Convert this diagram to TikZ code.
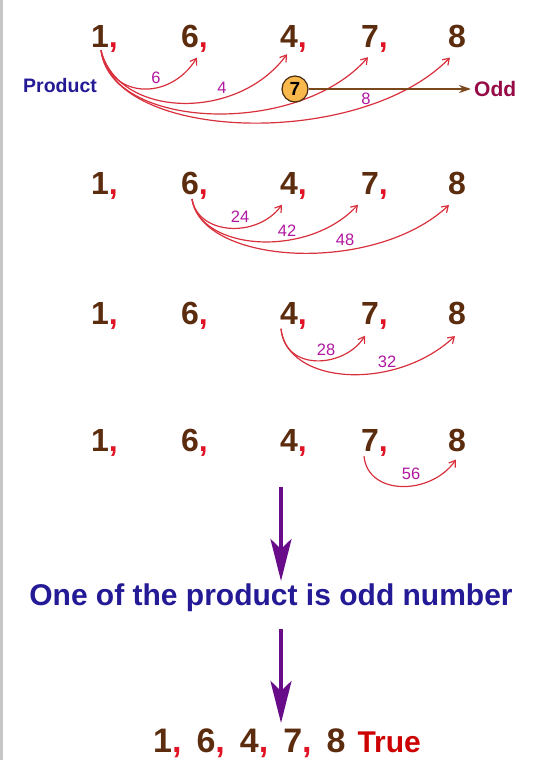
\documentclass[tikz,border=0pt]{standalone}
\usepackage{fontspec}
\setmainfont{Liberation Sans}
\usetikzlibrary{arrows.meta,calc}
\definecolor{numbrown}{RGB}{92,44,14}
\definecolor{commared}{RGB}{224,20,36}
\definecolor{arcred}{RGB}{216,48,60}
\definecolor{prodmag}{RGB}{176,24,160}
\definecolor{textblue}{RGB}{36,26,150}
\definecolor{oddmaroon}{RGB}{150,10,70}
\definecolor{arrowbrown}{RGB}{122,72,26}
\definecolor{circorange}{RGB}{248,184,76}
\definecolor{downpurple}{RGB}{104,12,138}
\newcommand{\redcomma}{\rlap{\smash{\textcolor{commared}{,}}}}
\tikzset{
  digit/.style={inner sep=0pt,text=numbrown,font=\fontsize{32}{32}\selectfont\bfseries},
  prodarc/.style={draw=arcred,line width=1.2pt,-{Straight Barb[length=6pt,width=8pt]}},
  prodlab/.style={inner sep=0pt,text=prodmag,font=\fontsize{16.5}{16.5}\selectfont},
  downarrow/.style={draw=downpurple,line width=4pt,-{Stealth[length=42pt,width=21pt,inset=10pt]}},
}

\begin{document}
\begin{tikzpicture}[x=1pt,y=-1pt]
\useasboundingbox (0,0) rectangle (542,760);
\fill[gray!45] (0,0) rectangle (3,760);
% the four rows of numbers
\foreach \r/\y in {1/36,2/183.5,3/313.5,4/440}{
  \foreach \n/\x/\d in {a/100/1,b/190/6,c/289/4,d/370/7}
    \node[digit] (n\r\n) at (\x,\y) {\d\redcomma};
  \node[digit] (n\r e) at (457,\y) {8};
}
% row 1: products with 1
\node[inner sep=0pt,text=textblue,font=\fontsize{19.5}{19.5}\selectfont\bfseries] (product) at (60,86) {Product};
\draw[prodarc] ([xshift=1pt,yshift=-3pt]n1a.south) .. controls +(8,48) and +(-28,45) .. ([xshift=7pt,yshift=-10pt]n1b.south);
\draw[prodarc] ([xshift=1pt,yshift=-3pt]n1a.south) .. controls +(17,68) and +(-50,68) .. ([xshift=-2pt,yshift=-7pt]n1c.south);
\draw[prodarc] ([xshift=1pt,yshift=-3pt]n1a.south) .. controls +(10,80) and +(-70,80) .. ([xshift=-2pt,yshift=-10pt]n1d.south);
\draw[prodarc] ([xshift=1pt,yshift=-3pt]n1a.south) .. controls +(12,92) and +(-90,92) .. ([xshift=-7pt,yshift=-10pt]n1e.south);
\node[prodlab] (p16) at (156,78) {6};
\node[prodlab] (p14) at (222,88) {4};
\node[prodlab] (p18) at (366,99) {8};
\node[circle,draw=arrowbrown!60!black,line width=1.2pt,fill=circorange,minimum size=26pt,inner sep=0pt,font=\fontsize{19}{19}\selectfont\bfseries] (seven) at (295,89) {7};
\node[anchor=west,inner sep=3pt,text=oddmaroon,font=\fontsize{21}{21}\selectfont\bfseries] (odd) at (471,89) {Odd};
\draw[arrowbrown,line width=1.5pt,-{Stealth[length=12pt,width=8pt]}] (seven) -- (odd);
% row 2: products with 6
\draw[prodarc] ([xshift=2pt,yshift=-4pt]n2b.south) .. controls +(6,36) and +(-25,34) .. ([xshift=-7pt,yshift=-10pt]n2c.south);
\draw[prodarc] ([xshift=2pt,yshift=-4pt]n2b.south) .. controls +(8,52) and +(-50,54) .. ([xshift=-12pt,yshift=-10pt]n2d.south);
\draw[prodarc] ([xshift=2pt,yshift=-4pt]n2b.south) .. controls +(10,66) and +(-75,70) .. ([xshift=-8pt,yshift=-10pt]n2e.south);
\node[prodlab] (p24) at (240,217) {24};
\node[prodlab] (p42) at (287,231) {42};
\node[prodlab] (p48) at (345,240) {48};
% row 3: products with 4
\draw[prodarc] ([xshift=-8pt,yshift=-4pt]n3c.south) .. controls +(4,44) and +(-20,32) .. ([xshift=-5pt,yshift=-11pt]n3d.south);
\draw[prodarc] ([xshift=-8pt,yshift=-4pt]n3c.south) .. controls +(6,56) and +(-60,56) .. ([xshift=-2pt,yshift=-11pt]n3e.south);
\node[prodlab] (p28) at (326,350) {28};
\node[prodlab] (p32) at (387,362) {32};
% row 4: product with 7
\draw[prodarc] ([xshift=-6pt,yshift=-5pt]n4d.south) .. controls +(4,40) and +(-25,36) .. ([xshift=-1pt,yshift=-8pt]n4e.south);
\node[prodlab] (p56) at (411,474) {56};
% conclusion
\coordinate (a1top) at (281,487);
\coordinate (a1tip) at (281,581);
\draw[downarrow] (a1top) -- (a1tip);
\node[inner sep=0pt,text=textblue,font=\fontsize{30}{30}\selectfont\bfseries] (msg) at (271,598) {One of the product is odd number};
\coordinate (a2top) at (281,629);
\coordinate (a2tip) at (281,723);
\draw[downarrow] (a2top) -- (a2tip);
\node[anchor=base west,inner sep=0pt,font=\fontsize{34}{34}\selectfont\bfseries] (result) at (153,752)
  {\textcolor{numbrown}{1}\textcolor{commared}{,}\hspace{15pt}\textcolor{numbrown}{6}\textcolor{commared}{,}\hspace{15pt}\textcolor{numbrown}{4}\textcolor{commared}{,}\hspace{15pt}\textcolor{numbrown}{7}\textcolor{commared}{,}\hspace{15pt}\textcolor{numbrown}{8}\hspace{12pt}{\fontsize{30}{30}\selectfont\textcolor{red!80!black}{True}}};
\end{tikzpicture}
\end{document}
